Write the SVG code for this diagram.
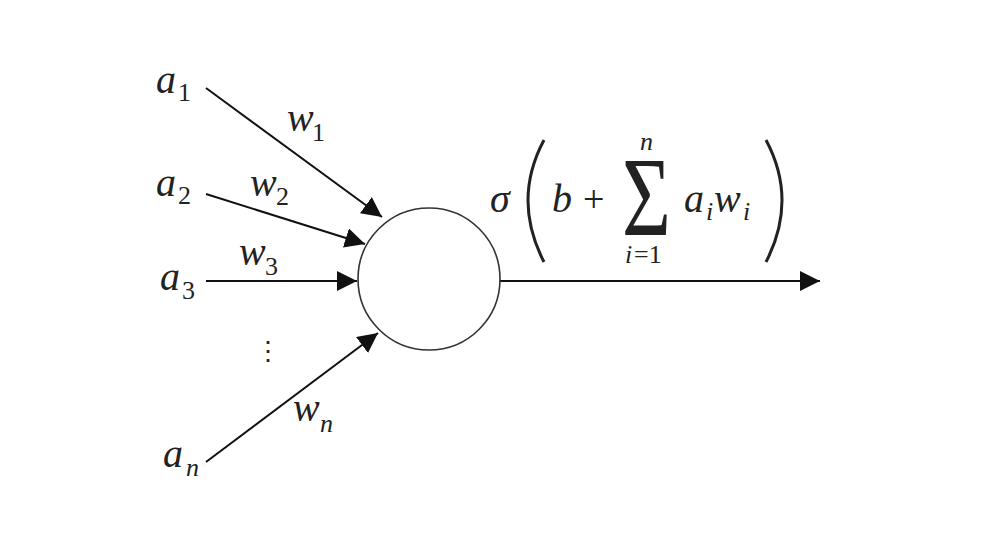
<svg xmlns="http://www.w3.org/2000/svg" width="992" height="538" viewBox="0 0 992 538">
<style>
.v{font-family:"Liberation Serif","DejaVu Serif",serif;font-style:italic;font-size:40px;fill:#222}
.s{font-family:"Liberation Serif","DejaVu Serif",serif;font-style:italic;font-size:26px;fill:#222}
.r{font-family:"Liberation Serif","DejaVu Serif",serif;font-size:26px;fill:#222}
.ln{stroke:#111;stroke-width:2;fill:none}
</style>
<defs>
<marker id="ahb" viewBox="0 0 10 10" refX="10" refY="5" markerWidth="20" markerHeight="20" markerUnits="userSpaceOnUse" orient="auto">
<path d="M0,0 L10,5 L0,10 z" fill="#111"/>
</marker>
</defs>
<rect width="992" height="538" fill="#fff"/>
<g id="connectors">
<line class="ln" x1="206" y1="88" x2="382" y2="217" marker-end="url(#ahb)"/>
<line class="ln" x1="206" y1="194" x2="365" y2="244" marker-end="url(#ahb)"/>
<line class="ln" x1="206" y1="281" x2="357" y2="281" marker-end="url(#ahb)"/>
<line class="ln" x1="206" y1="462" x2="378" y2="333" marker-end="url(#ahb)"/>
<line class="ln" x1="500" y1="281" x2="820" y2="281" marker-end="url(#ahb)"/>
</g>
<g id="neuron">
<circle cx="429" cy="279" r="71" fill="#fff" stroke="#333" stroke-width="1.6"/>
</g>
<g id="input-a1"><text class="v" x="156" y="93">a</text><text class="r" x="178" y="101">1</text></g>
<g id="input-a2"><text class="v" x="156" y="196">a</text><text class="r" x="178" y="204">2</text></g>
<g id="input-a3"><text class="v" x="160" y="290">a</text><text class="r" x="182" y="299">3</text></g>
<g id="input-dots"><text class="r" x="255" y="360">⋮</text></g>
<g id="input-an"><text class="v" x="163" y="467">a</text><text class="s" x="186" y="476">n</text></g>
<g id="weight-w1"><text class="v" x="287" y="131">w</text><text class="r" x="312" y="141">1</text></g>
<g id="weight-w2"><text class="v" x="250" y="196">w</text><text class="r" x="276" y="205">2</text></g>
<g id="weight-w3"><text class="v" x="239" y="265">w</text><text class="r" x="265" y="275">3</text></g>
<g id="weight-wn"><text class="v" x="293" y="421">w</text><text class="s" x="320" y="432">n</text></g>
<g id="formula">
<text class="v" x="490" y="212">σ</text>
<path d="M544,140 Q512,200 544,262" stroke="#222" stroke-width="3" fill="none"/>
<text class="v" x="552" y="212">b</text>
<text class="r" x="583" y="212" style="font-size:38px">+</text>
<text class="r" transform="translate(622,235) scale(0.75,1)" style="font-size:112px">Σ</text>
<text class="s" x="640" y="150">n</text>
<text class="s" x="625" y="263">i</text><text class="r" x="634" y="263">=1</text>
<text class="v" x="684" y="212">a</text><text class="s" x="706" y="220">i</text>
<text class="v" x="714" y="212">w</text><text class="s" x="743" y="220">i</text>
<path d="M766,140 Q798,200 766,262" stroke="#222" stroke-width="3" fill="none"/>
</g>
</svg>
